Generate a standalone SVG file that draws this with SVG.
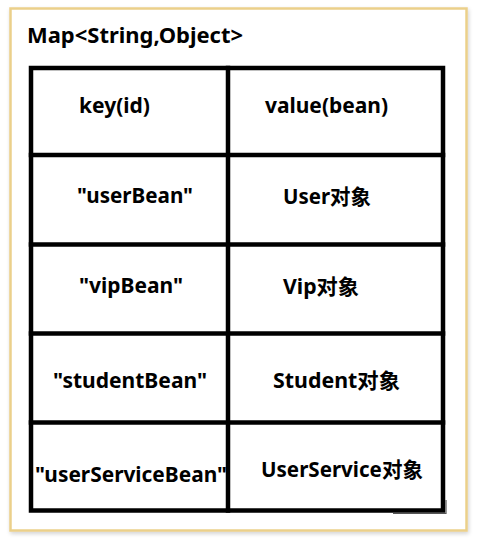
<svg xmlns="http://www.w3.org/2000/svg" width="496" height="542" viewBox="0 0 496 542">
<defs>
<filter id="sh" x="-5%" y="-5%" width="110%" height="110%">
<feGaussianBlur in="SourceAlpha" stdDeviation="2"/>
<feOffset dx="1" dy="2"/>
<feComponentTransfer><feFuncA type="linear" slope="0.18"/></feComponentTransfer>
<feMerge><feMergeNode/><feMergeNode in="SourceGraphic"/></feMerge>
</filter>
<style>
.t{font-family:"Noto Sans","Noto Sans CJK SC",sans-serif;font-weight:bold;font-size:21px;fill:#000;text-anchor:middle}
.ti{font-family:"Noto Sans","Noto Sans CJK SC",sans-serif;font-weight:bold;font-size:21px;fill:#000}
.g{stroke:#000;stroke-width:4.5;fill:none;stroke-linecap:square}
</style>
</defs>
<rect width="496" height="542" fill="#fff"/>
<g id="frame">
<rect x="10.5" y="8.5" width="456" height="522" fill="#fff" stroke="#EBD08A" stroke-width="2.5" filter="url(#sh)"/>
<text class="ti" x="27" y="43" textLength="216" lengthAdjust="spacingAndGlyphs">Map&lt;String,Object&gt;</text>
</g>
<g id="table-grid">
<rect class="g" x="31" y="68" width="412" height="442.5"/>
<line class="g" x1="228" y1="68" x2="228" y2="510.5"/>
<line class="g" x1="31" y1="155" x2="443" y2="155"/>
<line class="g" x1="31" y1="244.5" x2="443" y2="244.5"/>
<line class="g" x1="31" y1="333.5" x2="443" y2="333.5"/>
<line class="g" x1="31" y1="422.5" x2="443" y2="422.5"/>
<path d="M393 513.5 H446 V500" stroke="#555" stroke-width="1.2" fill="none"/>
</g>
<g id="header">
<text class="t" x="114.5" y="113" textLength="71" lengthAdjust="spacingAndGlyphs">key(id)</text>
<text class="t" x="326.5" y="113" textLength="123" lengthAdjust="spacingAndGlyphs">value(bean)</text>
</g>
<g id="row-user">
<text class="t" x="135" y="203" textLength="116" lengthAdjust="spacingAndGlyphs">"userBean"</text>
<text class="t" x="327" y="204" textLength="88" lengthAdjust="spacingAndGlyphs">User对象</text>
</g>
<g id="row-vip">
<text class="t" x="131" y="293" textLength="104" lengthAdjust="spacingAndGlyphs">"vipBean"</text>
<text class="t" x="321" y="294" textLength="76" lengthAdjust="spacingAndGlyphs">Vip对象</text>
</g>
<g id="row-student">
<text class="t" x="130" y="388" textLength="154" lengthAdjust="spacingAndGlyphs">"studentBean"</text>
<text class="t" x="336.5" y="388" textLength="127" lengthAdjust="spacingAndGlyphs">Student对象</text>
</g>
<g id="row-userservice">
<text class="t" x="131" y="482" textLength="192" lengthAdjust="spacingAndGlyphs">"userServiceBean"</text>
<text class="t" x="342" y="477" textLength="162" lengthAdjust="spacingAndGlyphs">UserService对象</text>
</g>
</svg>
